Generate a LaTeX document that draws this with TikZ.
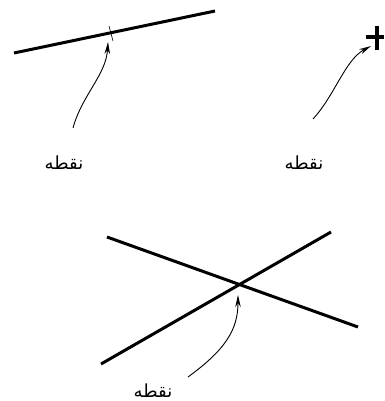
\documentclass[tikz,border=0pt]{standalone}
\usepackage{fontspec}
\newfontfamily\arabicfont[Script=Arabic]{DejaVu Sans}
\TeXXeTstate=1
\usetikzlibrary{arrows.meta}
\begin{document}
\begin{tikzpicture}[x=1pt,y=-1pt,
  thickline/.style={line width=3pt},
  pointer/.style={line width=0.9pt,-{Stealth[length=12pt,width=5.5pt]}},
  lbl/.style={inner sep=0pt,font=\arabicfont\fontsize{18}{20}\selectfont}]
\useasboundingbox (0,0) rectangle (384,401);
% top-left line with tick
\coordinate (l1a) at (14,53);
\coordinate (l1b) at (215,11);
\draw[thickline] (l1a) -- (l1b);
\coordinate (t1a) at (109,26);
\coordinate (t1b) at (113,41);
\draw[line width=0.6pt] (t1a) -- (t1b);
\coordinate (p1) at (108,42);
\coordinate (s1) at (73,128);
\draw[pointer] (s1) .. controls (82,95) and (106,75) .. (p1);
\node[lbl] (n1) at (64,163) {\beginR نقطه\endR};
% plus sign
\coordinate (ph1) at (366,37);
\coordinate (ph2) at (384,37);
\coordinate (pv1) at (377,26);
\coordinate (pv2) at (377,50);
\draw[line width=3.5pt] (ph1) -- (ph2);
\draw[line width=3.5pt] (pv1) -- (pv2);
\coordinate (p2) at (371,46);
\coordinate (s2) at (313,119);
\draw[pointer] (s2) .. controls (335,95) and (345,60) .. (p2);
\node[lbl] (n2) at (304,163) {\beginR نقطه\endR};
% crossing lines
\coordinate (la1) at (107,237);
\coordinate (la2) at (358,327);
\coordinate (lb1) at (101,364);
\coordinate (lb2) at (331,232);
\draw[thickline] (la1) -- (la2);
\draw[thickline] (lb1) -- (lb2);
\coordinate (p3) at (238,295);
\coordinate (s3) at (188,377);
\draw[pointer] (s3) .. controls (225,350) and (238,330) .. (p3);
\node[lbl] (n3) at (153,391) {\beginR نقطه\endR};
\end{tikzpicture}
\end{document}
